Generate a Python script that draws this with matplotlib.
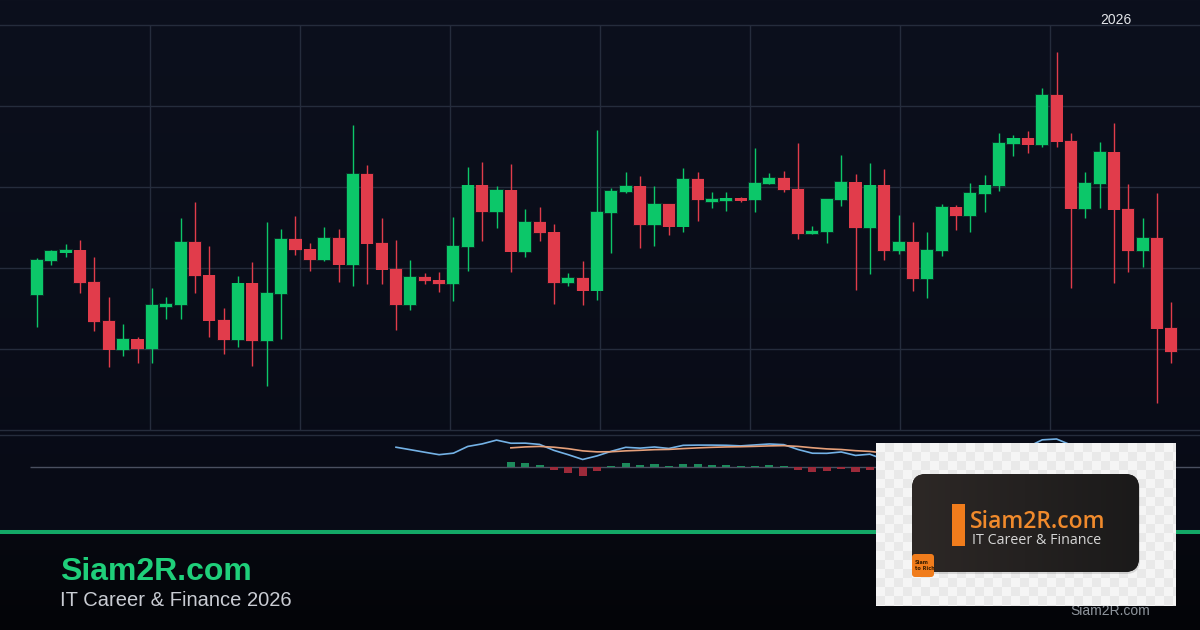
import numpy as np
import matplotlib
matplotlib.use("Agg")
import matplotlib.pyplot as plt
from matplotlib.patches import FancyBboxPatch, Rectangle
from matplotlib.lines import Line2D
from matplotlib.colors import ListedColormap, LinearSegmentedColormap, to_rgb

# ---------------- data ----------------
opens = [1167, 1209, 1219, 1222, 1183, 1135, 1099, 1112, 1100, 1152,
         1154, 1232, 1191, 1136, 1111, 1181, 1110, 1168, 1236, 1223,
         1210, 1237, 1204, 1316, 1231, 1199, 1154, 1189, 1185, 1180,
         1226, 1302, 1269, 1296, 1220, 1257, 1244, 1181, 1188, 1172,
         1268, 1294, 1301, 1253, 1279, 1251, 1310, 1281, 1283, 1286,
         1284, 1304, 1311, 1298, 1242, 1244, 1284, 1306, 1249, 1302,
         1221, 1232, 1186, 1221, 1275, 1264, 1291, 1301, 1353, 1360,
         1352, 1414, 1357, 1273, 1304, 1343, 1273, 1221, 1237, 1126]
highs = [1212, 1222, 1230, 1235, 1214, 1164, 1131, 1115, 1175, 1164,
         1262, 1281, 1227, 1151, 1190, 1207, 1257, 1248, 1264, 1231,
         1251, 1248, 1377, 1327, 1262, 1235, 1210, 1194, 1195, 1263,
         1325, 1331, 1301, 1328, 1273, 1275, 1254, 1194, 1209, 1370,
         1299, 1319, 1314, 1301, 1279, 1323, 1319, 1294, 1294, 1288,
         1348, 1317, 1320, 1354, 1252, 1285, 1340, 1316, 1330, 1322,
         1265, 1257, 1244, 1279, 1278, 1305, 1315, 1367, 1364, 1369,
         1422, 1467, 1367, 1319, 1356, 1379, 1304, 1262, 1293, 1158]
lows = [1127, 1204, 1214, 1169, 1122, 1078, 1091, 1083, 1083, 1137,
        1137, 1169, 1115, 1094, 1102, 1079, 1054, 1112, 1216, 1196,
        1209, 1183, 1178, 1180, 1180, 1123, 1148, 1180, 1170, 1159,
        1196, 1233, 1249, 1195, 1214, 1233, 1156, 1178, 1154, 1160,
        1219, 1293, 1225, 1227, 1241, 1244, 1258, 1274, 1270, 1281,
        1269, 1304, 1294, 1236, 1242, 1231, 1277, 1173, 1193, 1210,
        1217, 1172, 1163, 1215, 1247, 1244, 1269, 1295, 1338, 1342,
        1349, 1349, 1175, 1262, 1274, 1181, 1195, 1201, 1033, 1083]
closes = [1210, 1221, 1222, 1181, 1133, 1099, 1112, 1100, 1154, 1156,
          1232, 1190, 1135, 1111, 1181, 1110, 1169, 1236, 1222, 1210,
          1237, 1204, 1316, 1230, 1198, 1154, 1189, 1184, 1180, 1227,
          1302, 1269, 1296, 1220, 1257, 1243, 1181, 1188, 1172, 1269,
          1295, 1301, 1253, 1279, 1251, 1310, 1284, 1285, 1286, 1283,
          1305, 1311, 1296, 1242, 1246, 1285, 1306, 1249, 1302, 1221,
          1232, 1186, 1222, 1275, 1264, 1293, 1302, 1354, 1360, 1352,
          1414, 1356, 1273, 1305, 1343, 1272, 1221, 1237, 1125, 1096]
price_grid = [1000, 1100, 1200, 1300, 1400, 1500]
year_label = "2026"
brand = "Siam2R.com"
tagline = "IT Career & Finance 2026"
logo_tag = "IT Career & Finance"

# ---------------- style ----------------
W, H = 1200, 630
GREEN = '#0cc769'
RED = '#e13c4b'
GRID = '#252c3c'
MACD_C = '#74b2e6'
SIG_C = '#e6a07a'
HIST_UP = '#1d8a5c'
HIST_DN = '#9c2a3a'


def fx(px):
    return px / W


def fy(py):
    return 1 - py / H


fig = plt.figure(figsize=(12, 6.3), dpi=100)
fig.patch.set_facecolor('#0a0e1a')

# background gradient
bg = fig.add_axes([0, 0, 1, 1], zorder=-10)
bg.axis('off')
rows = np.arange(H)
stops_y = [0, 529, 530, 629]
stops_c = [to_rgb('#0c101d'), to_rgb('#080b16'), to_rgb('#070911'), to_rgb('#030407')]
grad = np.zeros((H, 1, 3))
for ch in range(3):
    grad[:, 0, ch] = np.interp(rows, stops_y, [c[ch] for c in stops_c])
bg.imshow(grad, aspect='auto', extent=(0, 1, 0, 1))
bg.set_xlim(0, 1)
bg.set_ylim(0, 1)

# x mapping: candle i centred at 37 + 14.36*i px
n = len(closes)
x = np.arange(n)
XL = (-37 / 14.36, (W - 37) / 14.36)
xgrid = [(p - 37) / 14.36 for p in range(150, 1200, 150)]

# ---------------- price pane ----------------
ax = fig.add_axes([0, fy(430), 1, (430 - 25) / H])
ax.set_facecolor('none')
ax.set_xlim(*XL)
ax.set_ylim(price_grid[0], price_grid[-1])
ax.set_yticks(price_grid)
ax.set_xticks(xgrid)
ax.grid(True, color=GRID, linewidth=1.0)
ax.tick_params(length=0, labelleft=False, labelbottom=False)
for s in ax.spines.values():
    s.set_visible(False)
for gl in ax.get_ygridlines():
    gl.set_clip_on(False)

o = np.array(opens, float)
c = np.array(closes, float)
hi = np.array(highs, float)
lo = np.array(lows, float)
up = c >= o
cols = np.where(up, GREEN, RED)
body_bot = np.minimum(o, c)
body_h = np.maximum(np.abs(c - o), 1.0)

# soft glow
ax.bar(x[up], body_h[up] + 2.0, bottom=body_bot[up] - 1.0, width=0.98,
       color=GREEN, alpha=0.18, linewidth=0, zorder=2)
ax.bar(x[~up], body_h[~up] + 1.5, bottom=body_bot[~up] - 0.75, width=0.94,
       color=RED, alpha=0.10, linewidth=0, zorder=2)
ax.vlines(x, lo, hi, colors=cols, linewidth=1.0, zorder=2.5)
ax.bar(x, body_h, bottom=body_bot, width=0.84, color=cols, linewidth=0, zorder=3)

fig.text(fx(1116), fy(20), year_label, color='#e4e6ea', fontsize=10,
         family='Liberation Sans', ha='center', va='center')

# ---------------- MACD pane ----------------


def ema(values, span):
    vals = np.asarray(values, float)
    out = np.full(len(vals), np.nan)
    valid = np.where(~np.isnan(vals))[0]
    start = valid[0]
    seed = start + span - 1
    out[seed] = vals[start:seed + 1].mean()
    k = 2 / (span + 1)
    for i in range(seed + 1, len(vals)):
        out[i] = vals[i] * k + out[i - 1] * (1 - k)
    return out


macd = ema(c, 12) - ema(c, 26)
signal = ema(macd, 9)
hist = macd - signal

ax2 = fig.add_axes([0, fy(530), 1, 95 / H])
ax2.set_facecolor('none')
ax2.set_xlim(*XL)
ax2.axis('off')
u = np.nanmax(macd) / 28.0
ax2.set_ylim(-63 * u, 32 * u)
ax2.hlines(0, -0.5, XL[1], color='#4a5060', linewidth=1.0, zorder=1)
hv = ~np.isnan(hist)
ax2.bar(x[hv], hist[hv], width=0.56,
        color=np.where(hist[hv] >= 0, HIST_UP, HIST_DN), linewidth=0, zorder=2)
ax2.plot(x, macd, color=MACD_C, linewidth=1.2, zorder=3)
ax2.plot(x, signal, color=SIG_C, linewidth=1.2, zorder=3)

fig.add_artist(Line2D([0, 1], [fy(435), fy(435)], color=GRID, linewidth=1.0))

# ---------------- footer ----------------
fig.add_artist(Line2D([0, 1], [fy(532), fy(532)], color='#13a867', linewidth=2.9))
fig.text(fx(60), fy(580), brand, color='#1fcf7a', fontsize=23, fontweight='bold',
         family='Liberation Sans', ha='left', va='baseline')
fig.text(fx(60), fy(606), tagline, color='#c9ccd3', fontsize=14.5,
         family='Liberation Sans', ha='left', va='baseline')
fig.text(fx(1110), fy(611), brand, color='#8f959d', fontsize=10,
         family='Liberation Sans', ha='center', va='center')

# ---------------- logo overlay ----------------
lg = fig.add_axes([fx(876), fy(606), 300 / W, 163 / H], zorder=20)
lg.axis('off')
yy, xx = np.indices((163, 300))
checker = (yy // 9 + xx // 9) % 2
lg.imshow(checker, cmap=ListedColormap(['#f5f5f5', '#e9e9e9']),
          extent=(0, 300, 163, 0), aspect='auto', interpolation='nearest')
shadow = FancyBboxPatch((37, 33), 227, 98, boxstyle='round,pad=0,rounding_size=14',
                        facecolor='#000000', alpha=0.12, edgecolor='none', zorder=2)
lg.add_patch(shadow)
box = FancyBboxPatch((36, 31), 227, 98, boxstyle='round,pad=0,rounding_size=14',
                     facecolor='#1e1c1b', edgecolor='none', zorder=3)
lg.add_patch(box)
g = np.linspace(0, 1, 256)[None, :]
im = lg.imshow(g, cmap=LinearSegmentedColormap.from_list('d', ['#2d2826', '#1b1a1a']),
               extent=(36, 263, 129, 31), aspect='auto', zorder=4)
im.set_clip_path(box)
lg.add_patch(Rectangle((76, 61), 13, 42, facecolor='#f07c1c', edgecolor='none', zorder=5))
lg.text(94, 79, brand, color='#f08a2c', fontsize=16.5, fontweight='semibold',
        family='Open Sans', ha='left', va='center', zorder=6)
lg.text(96, 98, logo_tag, color='#d6d6d6', fontsize=10.3, family='Open Sans',
        ha='left', va='center', zorder=6)
badge = FancyBboxPatch((36, 111), 22, 23, boxstyle='round,pad=0,rounding_size=3',
                       facecolor='#f07c1c', edgecolor='none', zorder=7)
lg.add_patch(badge)
lg.text(39, 122.5, "Siam\nto Rich", color='#3a1d00', fontsize=3.6, fontweight='bold',
        family='DejaVu Sans', ha='left', va='center', linespacing=1.1, zorder=8)
lg.set_xlim(0, 300)
lg.set_ylim(163, 0)

fig.savefig('out.png', dpi=100, facecolor=fig.get_facecolor())
